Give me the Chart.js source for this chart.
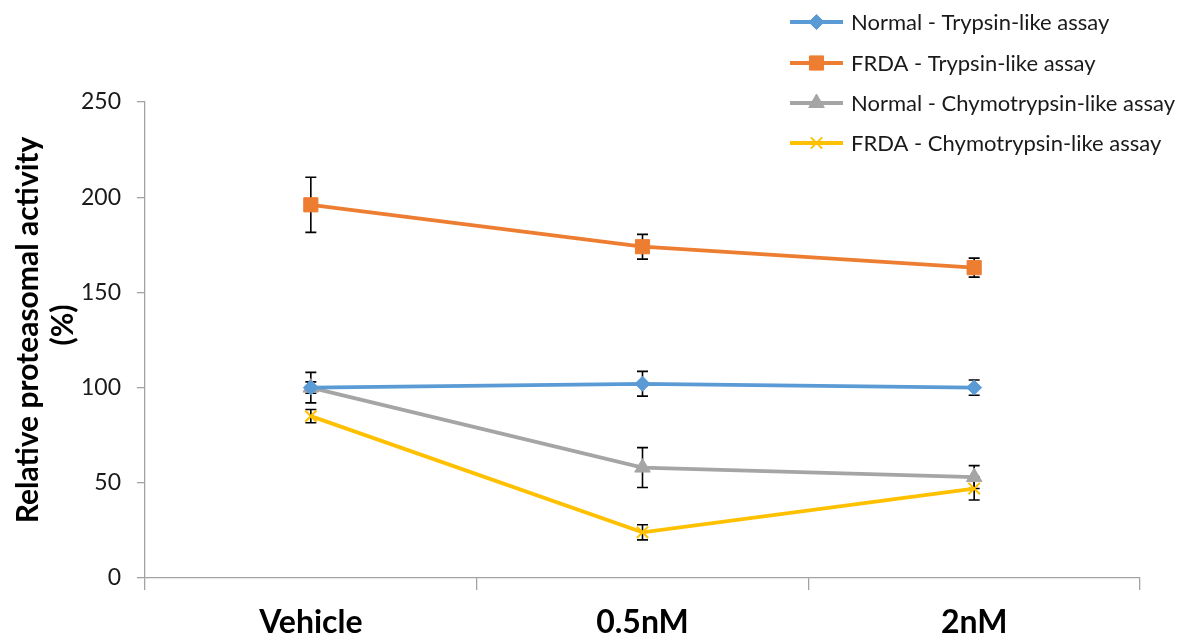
<!DOCTYPE html>
<html>
<head>
<meta charset="utf-8">
<script src="https://cdn.jsdelivr.net/npm/chart.js@4.4.1/dist/chart.umd.min.js"></script>
<style>
  html, body { margin: 0; padding: 0; background: #fff; }
  #wrap { width: 1179px; height: 640px; position: relative; }
</style>
</head>
<body>
<div id="wrap"><canvas id="c" width="1179" height="640"></canvas></div>
<script>
// Treatment groups on the x axis
const categories = ['Vehicle', '0.5nM', '2nM'];

// Mean relative proteasomal activity (%) and error (±)
const normalTrypsin = [100, 102, 100];
const normalTrypsinErr = [8, 6.5, 4];
const frdaTrypsin = [196, 174, 163];
const frdaTrypsinErr = [14.5, 6.5, 5];
const normalChymo = [100, 58, 53];
const normalChymoErr = [3, 10.5, 6];
const frdaChymo = [85, 24, 47];
const frdaChymoErr = [3.5, 4, 6];

// Series names and y-axis ticks
const seriesNames = [
  'Normal - Trypsin-like assay',
  'FRDA - Trypsin-like assay',
  'Normal - Chymotrypsin-like assay',
  'FRDA - Chymotrypsin-like assay'
];
const yTicks = [0, 50, 100, 150, 200, 250];
const yTitle = ['Relative proteasomal activity', '(%)'];

const FONT = 'Lato, "Open Sans", sans-serif';
const AXIS = '#a3a3a3';

const styles = [
  { color: '#5B9BD5', point: 'rectRot', r: 7.5 },
  { color: '#ED7D31', point: 'rect', r: 10 },
  { color: '#A5A5A5', point: 'triangle', r: 9 },
  { color: '#FFC000', point: 'crossRot', r: 8 }
];
const values = [normalTrypsin, frdaTrypsin, normalChymo, frdaChymo];
const errors = [normalTrypsinErr, frdaTrypsinErr, normalChymoErr, frdaChymoErr];

const datasets = values.map((v, i) => ({
  label: seriesNames[i],
  data: v,
  errors: errors[i],
  borderColor: styles[i].color,
  backgroundColor: styles[i].color,
  borderWidth: 3.8,
  pointStyle: styles[i].point,
  pointRadius: styles[i].r,
  pointHoverRadius: styles[i].r,
  pointBorderWidth: i === 3 ? 2 : 1,
  pointBorderColor: styles[i].color,
  pointBackgroundColor: styles[i].color,
  tension: 0,
  clip: false
}));

// Black error bars with caps, drawn beneath the markers
const errorBars = {
  id: 'errorBars',
  beforeDatasetsDraw(chart) {
    const { ctx } = chart;
    const y = chart.scales.y;
    ctx.save();
    ctx.strokeStyle = '#000';
    ctx.lineWidth = 1.6;
    chart.data.datasets.forEach((ds, di) => {
      const meta = chart.getDatasetMeta(di);
      meta.data.forEach((pt, i) => {
        const v = ds.data[i], e = ds.errors[i];
        const top = y.getPixelForValue(v + e);
        const bot = y.getPixelForValue(v - e);
        const x = pt.x;
        ctx.beginPath();
        ctx.moveTo(x, top); ctx.lineTo(x, bot);
        ctx.moveTo(x - 5.5, top); ctx.lineTo(x + 5.5, top);
        ctx.moveTo(x - 5.5, bot); ctx.lineTo(x + 5.5, bot);
        ctx.stroke();
      });
    });
    ctx.restore();
  }
};

// Floating legend in the upper right and the two-line y title
const overlay = {
  id: 'overlay',
  afterDraw(chart) {
    const { ctx } = chart;
    ctx.save();
    // y-axis title
    ctx.fillStyle = '#000';
    ctx.font = 'bold 30px ' + FONT;
    ctx.textAlign = 'center';
    ctx.textBaseline = 'middle';
    [[28, 330], [63, 325]].forEach(([x, cy], k) => {
      ctx.save();
      ctx.translate(x, cy);
      ctx.rotate(-Math.PI / 2);
      ctx.fillText(yTitle[k], 0, 0);
      ctx.restore();
    });
    // legend
    const ys = [22, 63, 103, 143];
    chart.data.datasets.forEach((ds, i) => {
      const yy = ys[i];
      ctx.strokeStyle = ds.borderColor;
      ctx.lineWidth = 3.8;
      ctx.beginPath();
      ctx.moveTo(790, yy); ctx.lineTo(843, yy);
      ctx.stroke();
      ctx.fillStyle = ds.borderColor;
      ctx.strokeStyle = ds.borderColor;
      ctx.lineWidth = ds.pointBorderWidth;
      Chart.helpers.drawPoint(ctx, {
        pointStyle: ds.pointStyle,
        radius: ds.pointRadius,
        borderWidth: ds.pointBorderWidth,
        rotation: 0
      }, 816.5, yy);
      ctx.fillStyle = '#1a1a1a';
      ctx.font = '22px ' + FONT;
      ctx.textAlign = 'left';
      ctx.textBaseline = 'middle';
      ctx.fillText(ds.label, 851, yy + 1);
    });
    ctx.restore();
  }
};

new Chart(document.getElementById('c'), {
  type: 'line',
  data: { labels: categories, datasets },
  options: {
    responsive: false,
    animation: false,
    devicePixelRatio: 1,
    layout: { padding: { top: 102, right: 39, left: 0, bottom: 0 } },
    plugins: { legend: { display: false }, tooltip: { enabled: false } },
    scales: {
      x: {
        offset: true,
        afterFit(s) { s.height = 62; },
        grid: {
          offset: true,
          drawOnChartArea: false,
          drawTicks: true,
          tickLength: 12,
          color: AXIS,
          lineWidth: 1.3
        },
        border: { color: AXIS, width: 1.3 },
        ticks: {
          color: '#000',
          font: { family: FONT, size: 32, weight: 'bold' },
          padding: 13,
          maxRotation: 0
        }
      },
      y: {
        min: 0,
        max: 250,
        afterFit(s) { s.width = 145; },
        afterBuildTicks(s) { s.ticks = yTicks.map(v => ({ value: v })); },
        grid: {
          drawOnChartArea: false,
          drawTicks: true,
          tickLength: 8,
          color: AXIS,
          lineWidth: 1.3
        },
        border: { color: AXIS, width: 1.3 },
        ticks: {
          color: '#1a1a1a',
          font: { family: FONT, size: 23 },
          padding: 16
        }
      }
    }
  },
  plugins: [errorBars, overlay]
});
</script>
</body>
</html>
